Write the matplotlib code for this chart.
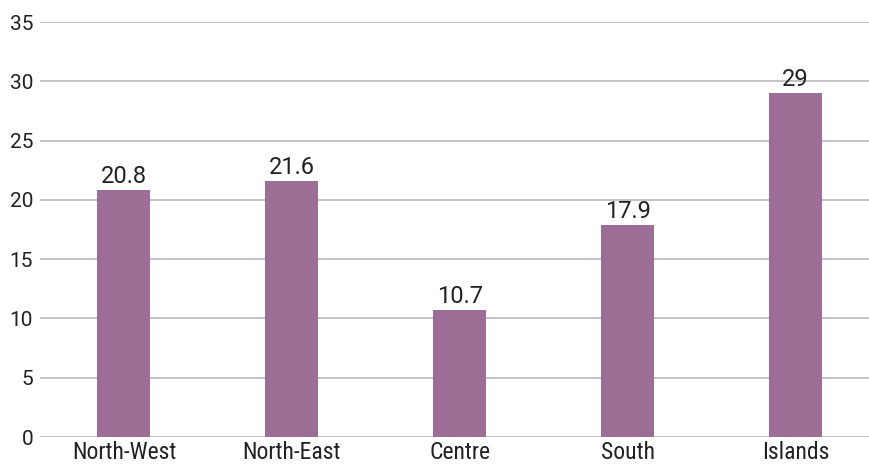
import matplotlib
matplotlib.use("Agg")
import matplotlib.pyplot as plt

regions = ["North-West", "North-East", "Centre", "South", "Islands"]
values = [20.8, 21.6, 10.7, 17.9, 29]
y_ticks = [0, 5, 10, 15, 20, 25, 30, 35]

bar_color = "#9c6e95"
grid_color = "#c3c3c6"
text_color = "#222222"

fig = plt.figure(figsize=(8.69, 4.65), dpi=100)
W, H = 869, 465
left, right = 40, 879.5
bottom, top = 465 - 437, 465 - 22
ax = fig.add_axes([left / W, bottom / H, (right - left) / W, (top - bottom) / H])

x = list(range(len(regions)))
ax.bar(x, values, width=0.316, color=bar_color, zorder=3)

ax.set_xlim(-0.5, len(regions) - 0.5)
ax.set_ylim(0, 35)
ax.set_yticks(y_ticks)
ax.set_yticklabels([str(t) for t in y_ticks], fontfamily="Roboto",
                   fontsize=15, color=text_color)
ax.set_xticks(x)
ax.set_xticklabels(regions, fontfamily="Roboto Condensed", fontsize=17,
                   color=text_color)
ax.tick_params(axis="y", length=0, pad=5)
ax.tick_params(axis="x", length=0, pad=3)

ax.yaxis.grid(True, color=grid_color, linewidth=1.4, zorder=0)
ax.xaxis.grid(False)
for s in ax.spines.values():
    s.set_visible(False)

for xi, v in zip(x, values):
    ax.annotate(f"{v:g}", (xi, v), xytext=(0, 5), textcoords="offset points",
                ha="center", va="baseline", fontfamily="Roboto", fontsize=17,
                color=text_color, zorder=4)

fig.savefig("out.png", dpi=100)
